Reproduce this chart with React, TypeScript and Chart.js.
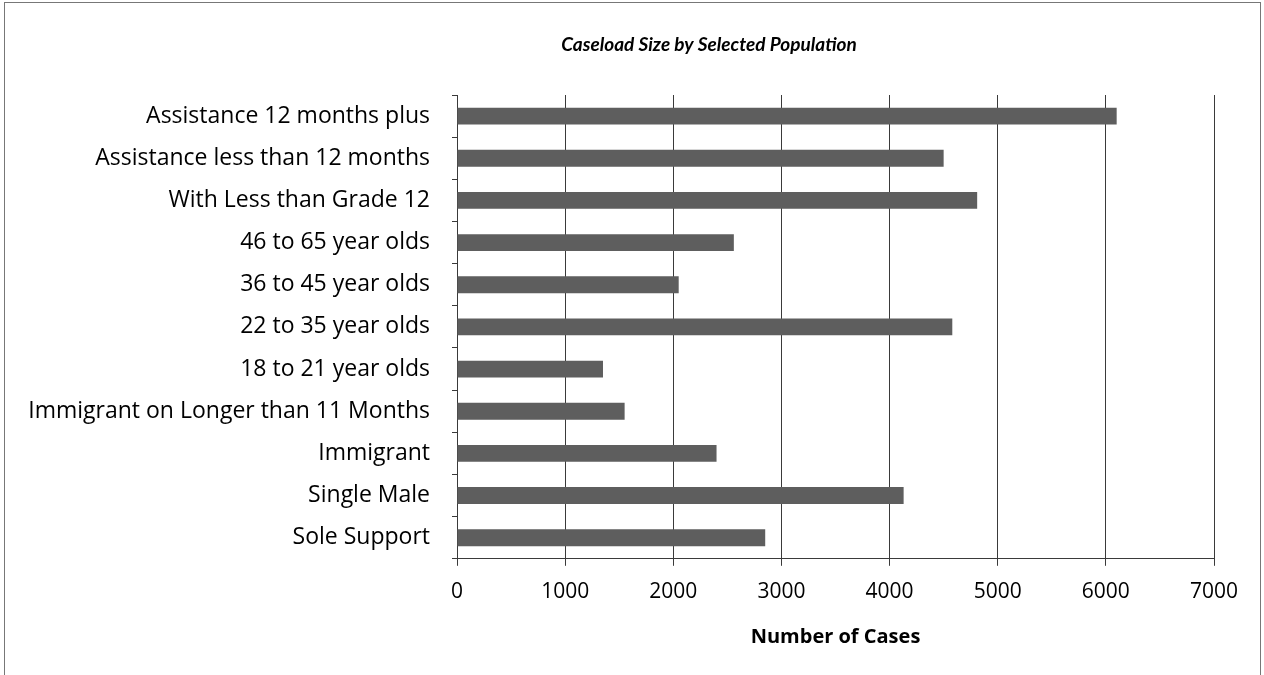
import React, { useEffect, useRef } from "react";
import { Chart, registerables } from "chart.js";

Chart.register(...registerables);

const chartTitle = "Caseload Size by Selected Population";
const axisTitle = "Number of Cases";

const categories: string[] = [
  "Assistance 12 months plus",
  "Assistance less than 12 months",
  "With Less than Grade 12",
  "46 to 65 year olds",
  "36 to 45 year olds",
  "22 to 35 year olds",
  "18 to 21 year olds",
  "Immigrant on Longer than 11 Months",
  "Immigrant",
  "Single Male",
  "Sole Support",
];

const caseCounts: number[] = [6100, 4500, 4810, 2560, 2050, 4580, 1350, 1550, 2400, 4130, 2850];

const xTicks: number[] = [0, 1000, 2000, 3000, 4000, 5000, 6000, 7000];

const FONT = "'Open Sans', 'Noto Sans', sans-serif";

const titlePlugin = {
  id: "customTitle",
  afterDraw(chart: any) {
    const ctx = chart.ctx;
    ctx.save();
    ctx.font = "italic bold 19px Lato, 'Open Sans', sans-serif";
    ctx.fillStyle = "#000";
    ctx.textAlign = "center";
    ctx.textBaseline = "middle";
    ctx.fillText(chartTitle, 709, 45);
    ctx.restore();
  },
};

export default function App() {
  const ref = useRef<HTMLCanvasElement | null>(null);

  useEffect(() => {
    if (!ref.current) return;
    const chart = new Chart(ref.current, {
      type: "bar",
      data: {
        labels: categories,
        datasets: [
          {
            data: caseCounts,
            backgroundColor: "#5e5e5e",
            borderWidth: 0,
            barPercentage: 0.4,
            categoryPercentage: 1,
          },
        ],
      },
      plugins: [titlePlugin],
      options: {
        indexAxis: "y",
        animation: false,
        responsive: false,
        maintainAspectRatio: false,
        layout: { padding: { left: 0, right: 50, top: 95, bottom: 26 } },
        plugins: {
          legend: { display: false },
          tooltip: { enabled: false },
          title: { display: false },
        },
        scales: {
          x: {
            min: 0,
            max: 7000,
            afterBuildTicks: (scale: any) => {
              scale.ticks = xTicks.map((v) => ({ value: v }));
            },
            ticks: {
              color: "#000",
              font: { family: FONT, size: 21 },
              padding: 14,
              maxRotation: 0,
              callback: (v: any) => String(v),
            },
            grid: {
              color: "#3a3a3a",
              lineWidth: 1,
              tickLength: 7,
            },
            border: { color: "#3a3a3a", width: 1 },
            title: {
              display: true,
              text: axisTitle,
              color: "#000",
              font: { family: FONT, size: 20, weight: "bold" },
              padding: { top: 6, bottom: 0 },
            },
          },
          y: {
            afterFit: (scale: any) => {
              scale.width = 457;
            },
            ticks: {
              color: "#000",
              font: { family: FONT, size: 23 },
              padding: 22,
            },
            grid: {
              offset: true,
              drawOnChartArea: false,
              drawTicks: true,
              tickLength: 5,
              color: "#3a3a3a",
            },
            border: { color: "#3a3a3a", width: 1 },
          },
        },
      },
    });
    return () => chart.destroy();
  }, []);

  return (
    <div style={{ position: "absolute", left: 0, top: 0, width: 1264, height: 675, overflow: "hidden", background: "#fff" }}>
      <div
        style={{
          position: "absolute",
          left: 4,
          top: 2,
          width: 1257,
          height: 720,
          border: "1px solid #777",
          boxSizing: "border-box",
        }}
      />
      <canvas ref={ref} width={1264} height={675} style={{ position: "absolute", left: 0, top: 0 }} />
    </div>
  );
}
